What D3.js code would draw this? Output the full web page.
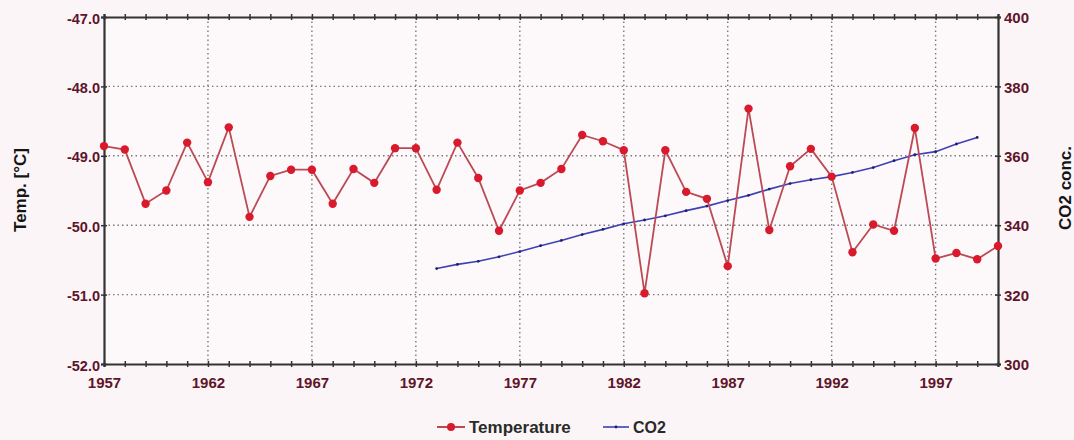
<!DOCTYPE html>
<html>
<head>
<meta charset="utf-8">
<script src="https://cdn.jsdelivr.net/npm/d3@7"></script>
<style>
    body { margin: 0; background: #fcf5f8; }
    text { font-family: "Liberation Sans", Arial, sans-serif; font-weight: bold; }
</style>
</head>
<body>
<div id="main"></div>
<script>
// data
const years = [1957, 1958, 1959, 1960, 1961, 1962, 1963, 1964, 1965, 1966, 1967,
               1968, 1969, 1970, 1971, 1972, 1973, 1974, 1975, 1976, 1977, 1978,
               1979, 1980, 1981, 1982, 1983, 1984, 1985, 1986, 1987, 1988, 1989,
               1990, 1991, 1992, 1993, 1994, 1995, 1996, 1997, 1998, 1999, 2000];
const temperature = [-48.86, -48.91, -49.69, -49.50, -48.81, -49.38, -48.59, -49.88, -49.29, -49.20, -49.20,
                     -49.69, -49.19, -49.39, -48.89, -48.89, -49.49, -48.81, -49.32, -50.08, -49.50, -49.39,
                     -49.19, -48.70, -48.79, -48.92, -50.98, -48.92, -49.52, -49.62, -50.59, -48.32, -50.07,
                     -49.15, -48.90, -49.30, -50.39, -49.99, -50.08, -48.60, -50.48, -50.40, -50.49, -50.30];
const co2Years = [1973, 1974, 1975, 1976, 1977, 1978, 1979, 1980, 1981, 1982, 1983, 1984, 1985, 1986,
                  1987, 1988, 1989, 1990, 1991, 1992, 1993, 1994, 1995, 1996, 1997, 1998, 1999];
const co2 = [327.5, 328.7, 329.6, 330.9, 332.4, 334.1, 335.6, 337.3, 338.8, 340.4, 341.5, 342.7, 344.2, 345.5,
             347.1, 348.6, 350.4, 352.0, 353.1, 354.0, 355.2, 356.6, 358.6, 360.3, 361.2, 363.4, 365.3];
const yearLabels = [1957, 1962, 1967, 1972, 1977, 1982, 1987, 1992, 1997];
const tempTicks = [-52, -51, -50, -49, -48, -47];
const co2Ticks = [300, 320, 340, 360, 380, 400];

const chartCtx = {
    WIDTH: 1074,
    HEIGHT: 440,
    LEFT: 104,
    RIGHT: 998,
    TOP: 17,
    BOTTOM: 364,
    LABEL_COLOR: "#5e1429",
    AXIS_COLOR: "#333",
    GRID_COLOR: "#7a7a7a",
    TEMP_LINE: "#bb4a55",
    TEMP_DOT: "#d81a2c",
    CO2_LINE: "#3d42b3",
    CO2_DOT: "#1e1f6a"
};

function drawChart() {
    const c = chartCtx;
    const svg = d3.select("#main").append("svg")
        .attr("width", c.WIDTH)
        .attr("height", c.HEIGHT);

    const x = d3.scaleLinear().domain([1957, 2000]).range([c.LEFT, c.RIGHT]);
    const yT = d3.scaleLinear().domain([-52, -47]).range([c.BOTTOM, c.TOP]);
    const yC = d3.scaleLinear().domain([300, 400]).range([c.BOTTOM, c.TOP]);

    svg.append("rect")
        .attr("x", c.LEFT).attr("y", c.TOP)
        .attr("width", c.RIGHT - c.LEFT).attr("height", c.BOTTOM - c.TOP)
        .attr("fill", "#fdf9fb");

    // dotted grid
    const grid = svg.append("g").attr("class", "grid")
        .attr("stroke", c.GRID_COLOR).attr("stroke-width", 1.4)
        .attr("stroke-dasharray", "1.5,3");
    grid.selectAll("line.v")
        .data(yearLabels.slice(1))
        .enter().append("line")
        .attr("class", "v")
        .attr("x1", d => x(d)).attr("x2", d => x(d))
        .attr("y1", c.TOP).attr("y2", c.BOTTOM);
    grid.selectAll("line.h")
        .data(tempTicks.slice(1, -1))
        .enter().append("line")
        .attr("class", "h")
        .attr("x1", c.LEFT).attr("x2", c.RIGHT)
        .attr("y1", d => yT(d)).attr("y2", d => yT(d));

    // axes
    const fmtYear = d => yearLabels.includes(d) ? d : "";
    const styleAxis = function (g) {
        g.select(".domain").attr("stroke", c.AXIS_COLOR).attr("stroke-width", 2.2);
        g.selectAll(".tick line").attr("stroke", c.AXIS_COLOR).attr("stroke-width", 1.5);
        g.selectAll("text").attr("fill", c.LABEL_COLOR).attr("font-family", null);
    };

    svg.append("g")
        .attr("transform", `translate(0,${c.BOTTOM})`)
        .call(d3.axisBottom(x).tickValues(years).tickFormat(fmtYear).tickSizeOuter(0).tickSize(3))
        .call(styleAxis)
        .call(g => g.selectAll(".tick line").attr("y1", -3))
        .call(g => g.selectAll("text").attr("y", 24).attr("dy", 0).attr("font-size", 15));

    svg.append("g")
        .attr("transform", `translate(0,${c.TOP})`)
        .call(d3.axisTop(x).tickValues(years).tickFormat("").tickSizeOuter(0).tickSize(3))
        .call(styleAxis)
        .call(g => g.selectAll(".tick line").attr("y1", 3));

    svg.append("g")
        .attr("transform", `translate(${c.LEFT},0)`)
        .call(d3.axisLeft(yT).tickValues(tempTicks).tickFormat(d3.format(".1f")).tickSizeOuter(0).tickSize(3))
        .call(styleAxis)
        .call(g => g.selectAll(".tick line").attr("x1", 3))
        .call(g => g.selectAll("text").attr("x", -4).attr("dy", "0.42em").attr("font-size", 14.5)
            .text(d => d3.format(".1f")(d).replace("−", "-")));

    svg.append("g")
        .attr("transform", `translate(${c.RIGHT},0)`)
        .call(d3.axisRight(yC).tickValues(co2Ticks).tickSizeOuter(0).tickSize(3))
        .call(styleAxis)
        .call(g => g.selectAll(".tick line").attr("x1", -3))
        .call(g => g.selectAll("text").attr("x", 6).attr("dy", "0.38em").attr("font-size", 15));

    // axis titles
    svg.append("text")
        .attr("transform", `translate(26,190) rotate(-90)`)
        .attr("text-anchor", "middle")
        .attr("font-size", 17)
        .attr("fill", "#151515")
        .text("Temp. [°C]");

    svg.append("text")
        .attr("transform", `translate(1071,188) rotate(-90)`)
        .attr("text-anchor", "middle")
        .attr("font-size", 17)
        .attr("fill", "#151515")
        .text("CO2 conc.");

    // series
    const tempData = years.map((yr, i) => ({ year: yr, value: temperature[i] }));
    const co2Data = co2Years.map((yr, i) => ({ year: yr, value: co2[i] }));

    svg.append("path")
        .datum(co2Data)
        .attr("fill", "none")
        .attr("stroke", c.CO2_LINE)
        .attr("stroke-width", 1.6)
        .attr("d", d3.line().x(d => x(d.year)).y(d => yC(d.value)));
    svg.selectAll("circle.co2")
        .data(co2Data)
        .enter().append("circle")
        .attr("class", "co2")
        .attr("cx", d => x(d.year)).attr("cy", d => yC(d.value))
        .attr("r", 1.4)
        .attr("fill", c.CO2_DOT);

    svg.append("path")
        .datum(tempData)
        .attr("fill", "none")
        .attr("stroke", c.TEMP_LINE)
        .attr("stroke-width", 1.8)
        .attr("d", d3.line().x(d => x(d.year)).y(d => yT(d.value)));
    svg.selectAll("circle.temp")
        .data(tempData)
        .enter().append("circle")
        .attr("class", "temp")
        .attr("cx", d => x(d.year)).attr("cy", d => yT(d.value))
        .attr("r", 4.2)
        .attr("fill", c.TEMP_DOT);

    // legend
    const leg = svg.append("g").attr("transform", "translate(0,427)");
    leg.append("line").attr("x1", 437).attr("x2", 465).attr("stroke", c.TEMP_LINE).attr("stroke-width", 2);
    leg.append("circle").attr("cx", 451).attr("r", 4).attr("fill", c.TEMP_DOT);
    leg.append("text").attr("x", 469).attr("dy", "0.36em").attr("font-size", 17).attr("fill", "#2a2a2a").text("Temperature");
    leg.append("line").attr("x1", 603).attr("x2", 629).attr("stroke", c.CO2_LINE).attr("stroke-width", 1.6);
    leg.append("circle").attr("cx", 616).attr("r", 1.4).attr("fill", c.CO2_DOT);
    leg.append("text").attr("x", 633).attr("dy", "0.36em").attr("font-size", 16).attr("fill", "#2a2a2a").text("CO2");
}

drawChart();
</script>
</body>
</html>
